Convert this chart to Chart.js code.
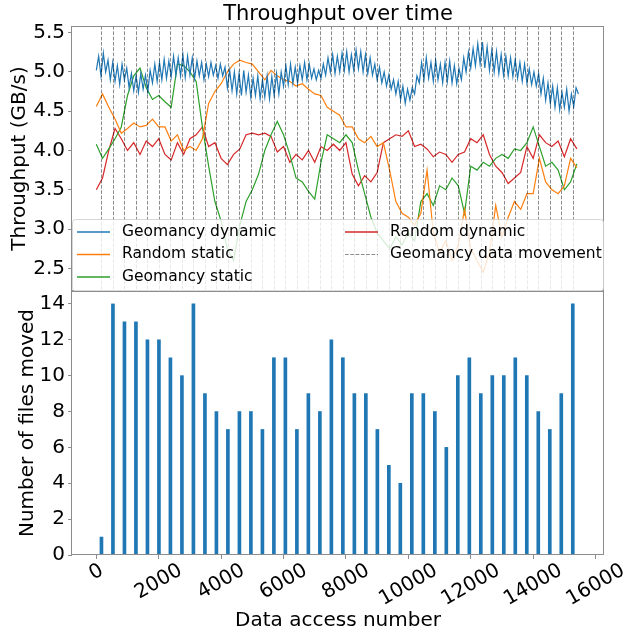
<!DOCTYPE html>
<html>
<head>
<meta charset="utf-8">
<title>Throughput over time</title>
<script src="https://cdn.jsdelivr.net/npm/chart.js@4.4.1/dist/chart.umd.min.js"></script>
<style>
  html, body { margin: 0; padding: 0; background: #fff; }
  #wrap { position: relative; width: 626px; height: 634px; }
  #topChart { position: absolute; left: 0; top: 0; }
  #bottomChart { position: absolute; left: 0; top: 291px; }
</style>
</head>
<body>
<div id="wrap">
  <canvas id="topChart" width="626" height="292"></canvas>
  <canvas id="bottomChart" width="626" height="343"></canvas>
</div>
<script>
/* =========================
   DATA
========================== */
// sample spacing (data accesses) of the throughput series
const dynStep = 75;
const staticStep = 200;

const geomancyDynamic = [
  5.02, 5.2, 4.95, 5.24, 5.0, 5.15, 4.9, 5.12, 4.88, 5.08,
  4.84, 5.1, 4.9, 5.05, 4.8, 4.98, 4.76, 4.95, 4.74, 4.98,
  4.78, 4.96, 4.75, 5.02, 4.86, 5.1, 4.88, 5.12, 4.9, 5.16,
  4.92, 5.14, 4.94, 5.2, 4.96, 5.18, 4.95, 5.22, 4.93, 5.2,
  4.96, 5.18, 4.92, 5.14, 4.95, 5.12, 4.9, 5.1, 4.94, 5.12,
  4.96, 5.08, 4.92, 5.1, 4.95, 5.06, 4.8, 5.02, 4.76, 5.0,
  4.72, 4.98, 4.7, 5.02, 4.74, 4.96, 4.68, 4.92, 4.7, 4.95,
  4.66, 4.9, 4.68, 4.95, 4.66, 4.94, 4.7, 4.98, 4.72, 5.0,
  4.82, 5.08, 4.84, 5.1, 4.85, 5.06, 4.86, 5.08, 4.9, 5.12,
  4.9, 5.1, 4.92, 5.04, 4.9, 5.02, 4.92, 5.1, 4.96, 5.18,
  5.0, 5.22, 4.98, 5.2, 5.0, 5.24, 5.02, 5.26, 5.0, 5.22,
  5.02, 5.28, 5.04, 5.26, 5.0, 5.22, 4.98, 5.18, 4.96, 5.1,
  4.9, 5.06, 4.86, 5.0, 4.82, 4.96, 4.78, 4.9, 4.72, 4.88,
  4.65, 4.82, 4.6, 4.78, 4.64, 4.8, 4.72, 4.95, 4.86, 5.12,
  4.9, 5.18, 4.92, 5.12, 4.88, 5.15, 4.9, 5.1, 4.86, 5.12,
  4.88, 5.14, 4.86, 5.08, 4.85, 5.04, 4.9, 5.18, 5.0, 5.25,
  5.05, 5.3, 5.08, 5.36, 5.1, 5.38, 5.05, 5.32, 5.02, 5.28,
  5.0, 5.26, 4.98, 5.22, 4.96, 5.2, 4.95, 5.18, 4.94, 5.16,
  4.92, 5.12, 4.88, 5.1, 4.86, 5.04, 4.84, 5.0, 4.82, 4.98,
  4.72, 4.92, 4.64, 4.86, 4.6, 4.82, 4.55, 4.8, 4.52, 4.74,
  4.55, 4.78, 4.5, 4.72, 4.56, 4.8, 4.72
];

const randomStatic = [
  4.56, 4.72, 4.55, 4.4, 4.22, 4.28, 4.35, 4.3, 4.32, 4.4,
  4.3, 4.3, 4.12, 4.2, 4.0, 4.05, 4.0, 4.15, 4.6, 4.75,
  4.85, 5.0, 5.1, 5.15, 5.12, 5.1, 5.0, 4.9, 5.02, 4.95,
  4.9, 4.88, 4.82, 4.85, 4.78, 4.72, 4.7, 4.55, 4.5, 4.45,
  4.3, 4.3, 4.15, 4.1, 4.18, 4.05, 4.1, 3.75, 3.35, 3.2,
  3.15, 3.05, 3.2, 3.75, 2.95, 2.7, 2.85, 2.6, 2.8, 3.25,
  2.75, 2.6, 2.45, 2.7, 3.3, 2.9, 3.15, 3.35, 3.25, 3.45,
  3.45, 3.9, 3.6, 3.5, 3.45, 3.55, 3.9, 3.78
];

const geomancyStatic = [
  4.08, 3.9, 4.02, 4.15, 4.3, 4.7, 4.95, 5.05, 4.8, 4.65,
  4.7, 4.62, 4.55, 5.1, 5.08, 5.0, 4.88, 4.3, 3.8, 3.35,
  3.1, 2.75, 2.6, 3.05, 3.35, 3.5, 3.7, 4.0, 4.2, 4.37,
  4.2, 3.95, 3.65, 3.6, 3.48, 3.38, 3.85, 4.2, 4.15, 4.1,
  4.2, 4.1, 3.75, 3.45, 3.15, 2.95, 2.85, 2.75, 2.9, 2.8,
  2.95, 2.85, 3.35, 3.45, 3.3, 3.55, 3.5, 3.65, 3.55, 3.2,
  3.8, 3.75, 3.85, 3.8, 3.9, 3.95, 3.9, 4.02, 4.0, 4.1,
  4.3, 4.05, 3.8, 3.85, 3.75, 3.5, 3.6, 3.83
];

const randomDynamic = [
  3.5, 3.65, 4.0, 4.28, 4.15, 4.0, 4.1, 3.95, 4.12, 4.05,
  4.15, 3.95, 3.88, 4.1, 3.95, 4.15, 4.2, 4.3, 4.05, 4.1,
  3.9, 3.82, 3.95, 4.02, 4.2, 4.22, 4.2, 4.22, 4.18, 3.98,
  4.05, 3.85, 3.95, 3.88, 4.0, 3.85, 4.05, 4.0, 4.08, 4.0,
  4.1, 3.7, 3.55, 3.68, 3.6, 3.72, 4.1, 4.15, 4.2, 4.18,
  4.25, 4.05, 4.08, 4.02, 3.92, 3.98, 3.95, 3.85, 3.95, 3.98,
  4.15, 4.1, 4.2, 3.95, 3.8, 3.72, 3.58, 3.65, 3.72, 4.05,
  3.9, 4.2, 4.1, 4.05, 4.12, 3.92, 4.15, 4.02
];

// data access number at which Geomancy moved data, and how many files
const moveAccess = [
  165, 533, 902, 1270, 1639, 2007, 2375, 2744, 3112, 3481,
  3849, 4217, 4586, 4954, 5323, 5691, 6059, 6428, 6796, 7165,
  7533, 7901, 8270, 8638, 9007, 9375, 9743, 10112, 10480, 10849,
  11217, 11585, 11954, 12322, 12691, 13059, 13427, 13796, 14164, 14533,
  14901, 15270
];
const filesMoved = [
  1, 14, 13, 13, 12, 12, 11, 10, 14, 9,
  8, 7, 8, 8, 7, 11, 11, 7, 9, 8,
  12, 11, 9, 9, 7, 5, 4, 9, 9, 8,
  6, 10, 11, 9, 10, 10, 11, 10, 8, 7,
  9, 14
];

const throughputTicks = [2.5, 3.0, 3.5, 4.0, 4.5, 5.0, 5.5];
const filesTicks = [0, 2, 4, 6, 8, 10, 12, 14];
const accessTicks = [0, 2000, 4000, 6000, 8000, 10000, 12000, 14000, 16000];

const seriesNames = ["Geomancy dynamic", "Random static", "Geomancy static", "Random dynamic"];
const movementName = "Geomancy data movement";

/* =========================
   STYLE
========================== */
const FONT = "'DejaVu Sans', sans-serif";
const AXIS_GREY = "#8c8c8c";
const X_MIN = -779;
const X_MAX = 16270;
const colors = {
  blue: "#1f77b4",
  orange: "#ff7f0e",
  green: "#2ca02c",
  red: "#d62728"
};

Chart.defaults.font.family = FONT;
Chart.defaults.color = "#000";

function toPoints(values, step) {
  return values.map((y, i) => ({ x: i * step, y }));
}

function fixedTicks(values) {
  return scale => { scale.ticks = values.map(v => ({ value: v })); };
}

function lineSet(label, values, step, color) {
  return {
    label,
    data: toPoints(values, step),
    borderColor: color,
    backgroundColor: color,
    borderWidth: 1.2,
    pointRadius: 0,
    tension: 0
  };
}

function leftAxis(min, max, ticks, fmt, title, titlePad) {
  return {
    min, max,
    afterBuildTicks: fixedTicks(ticks),
    afterFit: s => { s.width = 72; s.paddingTop = 0; s.paddingBottom = 0; },
    grid: { drawOnChartArea: false, drawTicks: true, tickLength: 4, tickColor: AXIS_GREY },
    border: { display: false },
    ticks: { font: { size: 20 }, padding: 3, callback: fmt },
    title: {
      display: true,
      text: title,
      font: { size: 20 },
      padding: { top: titlePad, bottom: 0 }
    }
  };
}

/* =========================
   PLUGINS
========================== */
const framePlugin = {
  id: "frame",
  afterDatasetsDraw(chart) {
    const { ctx, chartArea: a } = chart;
    ctx.save();
    ctx.strokeStyle = AXIS_GREY;
    ctx.lineWidth = 1;
    ctx.strokeRect(a.left - 0.5, a.top + 0.5, a.right - a.left, a.bottom - a.top - 1);
    ctx.restore();
  }
};

const movementPlugin = {
  id: "movement",
  afterDatasetsDraw(chart) {
    const { ctx, chartArea: a } = chart;
    const xs = chart.scales.x;
    ctx.save();
    ctx.strokeStyle = "rgba(0,0,0,0.45)";
    ctx.lineWidth = 1;
    ctx.setLineDash([3.7, 1.6]);
    moveAccess.forEach(v => {
      const px = Math.round(xs.getPixelForValue(v)) + 0.5;
      ctx.beginPath();
      ctx.moveTo(px, a.top);
      ctx.lineTo(px, a.bottom);
      ctx.stroke();
    });
    ctx.restore();
  }
};

const topTextPlugin = {
  id: "topText",
  afterDraw(chart) {
    const { ctx, chartArea: a } = chart;
    ctx.save();
    // title centred on the axes
    ctx.fillStyle = "#000";
    ctx.font = "21px " + FONT;
    ctx.textAlign = "center";
    ctx.textBaseline = "middle";
    ctx.fillText("Throughput over time", (a.left + a.right) / 2, 15);

    // legend box inside the bottom of the axes
    const bx = a.left + 0.5, by = 219.5, bw = a.right - a.left - 1, bh = a.bottom - 219.5;
    ctx.beginPath();
    ctx.roundRect(bx, by, bw, bh, 3);
    ctx.fillStyle = "rgba(255,255,255,0.8)";
    ctx.fill();
    ctx.strokeStyle = "rgba(204,204,204,0.8)";
    ctx.lineWidth = 1;
    ctx.stroke();

    const items = [
      { text: seriesNames[0], color: colors.blue, x: 77, y: 231.5 },
      { text: seriesNames[1], color: colors.orange, x: 77, y: 254 },
      { text: seriesNames[2], color: colors.green, x: 77, y: 276.5 },
      { text: seriesNames[3], color: colors.red, x: 345, y: 231.5 },
      { text: movementName, color: "rgba(0,0,0,0.45)", x: 345, y: 254, dash: true }
    ];
    ctx.font = "15.5px " + FONT;
    ctx.textAlign = "left";
    items.forEach(it => {
      ctx.beginPath();
      ctx.strokeStyle = it.color;
      ctx.lineWidth = it.dash ? 1 : 1.5;
      ctx.setLineDash(it.dash ? [3.7, 1.6] : []);
      ctx.moveTo(it.x, it.y + 0.5);
      ctx.lineTo(it.x + 33, it.y + 0.5);
      ctx.stroke();
      ctx.fillStyle = "#000";
      ctx.fillText(it.text, it.x + 45, it.y);
    });
    ctx.restore();
  }
};

const accessLabelPlugin = {
  id: "accessLabels",
  afterDraw(chart) {
    const { ctx } = chart;
    const xs = chart.scales.x;
    const labelTop = xs.top + 4;
    const ang = Math.PI / 6;
    ctx.save();
    ctx.fillStyle = "#000";
    ctx.font = "20px " + FONT;
    ctx.textAlign = "center";
    ctx.textBaseline = "middle";
    accessTicks.forEach(v => {
      const label = String(v);
      const w = ctx.measureText(label).width;
      const h = 23.4;
      const cx = xs.getPixelForValue(v);
      const cy = labelTop + (w * Math.sin(ang) + h * Math.cos(ang)) / 2;
      ctx.save();
      ctx.translate(cx, cy);
      ctx.rotate(-ang);
      ctx.fillText(label, 0, 0);
      ctx.restore();
    });
    ctx.restore();
  }
};

/* =========================
   TOP: THROUGHPUT
========================== */
new Chart(document.getElementById("topChart"), {
  type: "line",
  data: {
    datasets: [
      lineSet(seriesNames[0], geomancyDynamic, dynStep, colors.blue),
      lineSet(seriesNames[1], randomStatic, staticStep, colors.orange),
      lineSet(seriesNames[2], geomancyStatic, staticStep, colors.green),
      lineSet(seriesNames[3], randomDynamic, staticStep, colors.red)
    ]
  },
  options: {
    responsive: false,
    animation: false,
    devicePixelRatio: 1,
    layout: { padding: { top: 26, right: 22, bottom: 1, left: 0 } },
    plugins: { legend: { display: false }, tooltip: { enabled: false } },
    scales: {
      x: { type: "linear", min: X_MIN, max: X_MAX, display: false },
      y: leftAxis(2.211, 5.585, throughputTicks, v => v.toFixed(1), "Throughput (GB/s)", 8)
    }
  },
  plugins: [movementPlugin, framePlugin, topTextPlugin]
});

/* =========================
   BOTTOM: FILES MOVED
========================== */
new Chart(document.getElementById("bottomChart"), {
  type: "bar",
  data: {
    datasets: [{
      label: "Files moved",
      data: moveAccess.map((x, i) => ({ x, y: filesMoved[i] })),
      backgroundColor: colors.blue,
      barThickness: 3
    }]
  },
  options: {
    responsive: false,
    animation: false,
    devicePixelRatio: 1,
    layout: { padding: { top: 0, right: 22, bottom: 0, left: 0 } },
    plugins: { legend: { display: false }, tooltip: { enabled: false } },
    scales: {
      x: {
        type: "linear",
        min: X_MIN,
        max: X_MAX,
        offset: false,
        afterBuildTicks: fixedTicks(accessTicks),
        afterFit: s => { s.height = 79; },
        grid: { offset: false, drawOnChartArea: false, drawTicks: true, tickLength: 4, tickColor: AXIS_GREY },
        border: { display: false },
        ticks: { display: false },
        title: {
          display: true,
          text: "Data access number",
          font: { size: 20 },
          padding: { top: 0, bottom: 1 }
        }
      },
      y: leftAxis(0, 14.72, filesTicks, v => String(v), "Number of files moved", 15.6)
    }
  },
  plugins: [framePlugin, accessLabelPlugin]
});
</script>
</body>
</html>
